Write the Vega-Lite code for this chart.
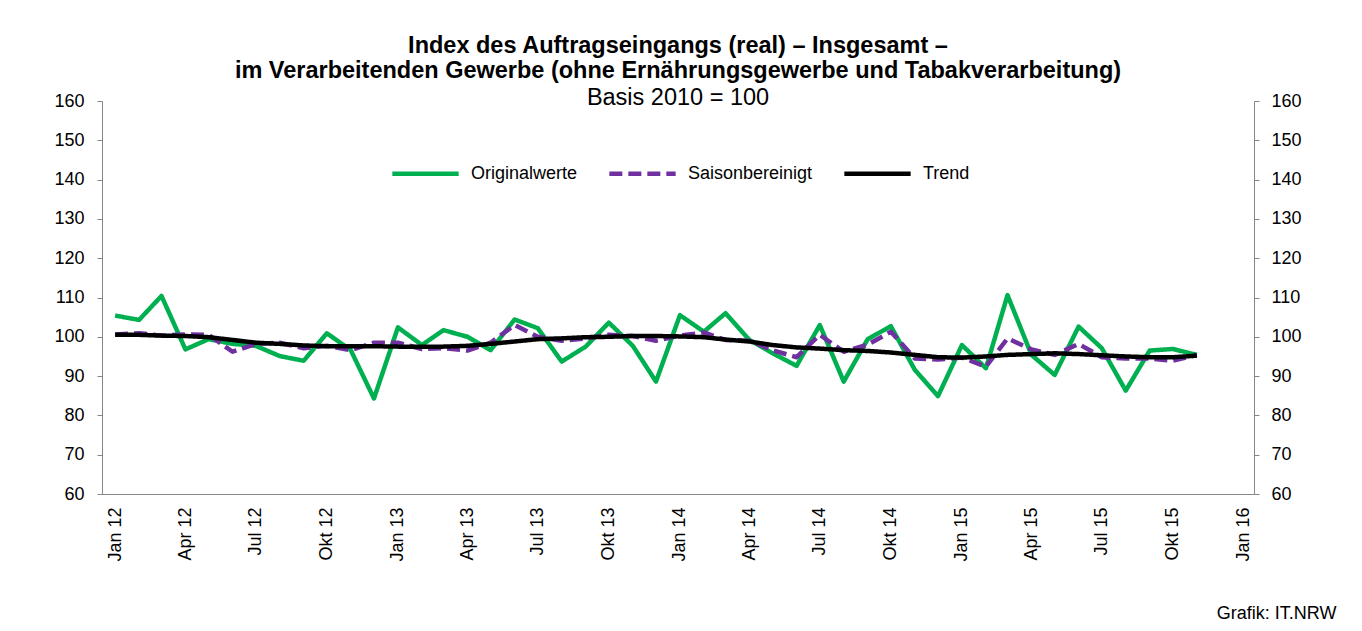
{
  "$schema": "https://vega.github.io/schema/vega-lite/v6.json",
  "autosize": {"type": "none"},
  "width": 1152,
  "height": 393,
  "padding": {"left": 102, "top": 101, "right": 108, "bottom": 137},
  "background": "white",
  "config": {
    "font": "Liberation Sans",
    "view": {"stroke": null},
    "axis": {"labelFont": "Liberation Sans", "titleFont": "Liberation Sans"}
  },
  "title": {
    "text": ["Index des Auftragseingangs (real) – Insgesamt –", "im Verarbeitenden Gewerbe (ohne Ernährungsgewerbe und Tabakverarbeitung)"],
    "subtitle": "Basis 2010 = 100",
    "anchor": "middle",
    "font": "Liberation Sans",
    "fontSize": 23.5,
    "fontWeight": "bold",
    "lineHeight": 25,
    "color": "#000000",
    "subtitleFont": "Liberation Sans",
    "subtitleFontSize": 23.5,
    "subtitleFontWeight": "normal",
    "subtitleColor": "#000000",
    "subtitlePadding": 3,
    "offset": -17
  },
  "data": {"values": [
    {"d":"2012-01-01","s":"Originalwerte","v":105.4},{"d":"2012-02-01","s":"Originalwerte","v":104.3},{"d":"2012-03-01","s":"Originalwerte","v":110.4},{"d":"2012-04-01","s":"Originalwerte","v":96.8},{"d":"2012-05-01","s":"Originalwerte","v":99.4},{"d":"2012-06-01","s":"Originalwerte","v":98.2},{"d":"2012-07-01","s":"Originalwerte","v":97.7},{"d":"2012-08-01","s":"Originalwerte","v":95.1},{"d":"2012-09-01","s":"Originalwerte","v":93.9},{"d":"2012-10-01","s":"Originalwerte","v":100.9},{"d":"2012-11-01","s":"Originalwerte","v":96.6},{"d":"2012-12-01","s":"Originalwerte","v":84.3},
    {"d":"2013-01-01","s":"Originalwerte","v":102.4},{"d":"2013-02-01","s":"Originalwerte","v":97.9},{"d":"2013-03-01","s":"Originalwerte","v":101.7},{"d":"2013-04-01","s":"Originalwerte","v":100.0},{"d":"2013-05-01","s":"Originalwerte","v":96.6},{"d":"2013-06-01","s":"Originalwerte","v":104.4},{"d":"2013-07-01","s":"Originalwerte","v":102.2},{"d":"2013-08-01","s":"Originalwerte","v":93.7},{"d":"2013-09-01","s":"Originalwerte","v":97.5},{"d":"2013-10-01","s":"Originalwerte","v":103.6},{"d":"2013-11-01","s":"Originalwerte","v":97.7},{"d":"2013-12-01","s":"Originalwerte","v":88.6},
    {"d":"2014-01-01","s":"Originalwerte","v":105.5},{"d":"2014-02-01","s":"Originalwerte","v":101.3},{"d":"2014-03-01","s":"Originalwerte","v":106.0},{"d":"2014-04-01","s":"Originalwerte","v":99.2},{"d":"2014-05-01","s":"Originalwerte","v":95.8},{"d":"2014-06-01","s":"Originalwerte","v":92.6},{"d":"2014-07-01","s":"Originalwerte","v":103.0},{"d":"2014-08-01","s":"Originalwerte","v":88.6},{"d":"2014-09-01","s":"Originalwerte","v":99.4},{"d":"2014-10-01","s":"Originalwerte","v":102.7},{"d":"2014-11-01","s":"Originalwerte","v":91.6},{"d":"2014-12-01","s":"Originalwerte","v":84.9},
    {"d":"2015-01-01","s":"Originalwerte","v":97.9},{"d":"2015-02-01","s":"Originalwerte","v":92.0},{"d":"2015-03-01","s":"Originalwerte","v":110.6},{"d":"2015-04-01","s":"Originalwerte","v":95.4},{"d":"2015-05-01","s":"Originalwerte","v":90.3},{"d":"2015-06-01","s":"Originalwerte","v":102.6},{"d":"2015-07-01","s":"Originalwerte","v":97.1},{"d":"2015-08-01","s":"Originalwerte","v":86.3},{"d":"2015-09-01","s":"Originalwerte","v":96.5},{"d":"2015-10-01","s":"Originalwerte","v":96.9},{"d":"2015-11-01","s":"Originalwerte","v":95.4},
    {"d":"2012-01-01","s":"Saisonbereinigt","v":100.6},{"d":"2012-02-01","s":"Saisonbereinigt","v":100.9},{"d":"2012-03-01","s":"Saisonbereinigt","v":100.3},{"d":"2012-04-01","s":"Saisonbereinigt","v":100.6},{"d":"2012-05-01","s":"Saisonbereinigt","v":100.5},{"d":"2012-06-01","s":"Saisonbereinigt","v":96.2},{"d":"2012-07-01","s":"Saisonbereinigt","v":98.2},{"d":"2012-08-01","s":"Saisonbereinigt","v":98.5},{"d":"2012-09-01","s":"Saisonbereinigt","v":97.1},{"d":"2012-10-01","s":"Saisonbereinigt","v":97.7},{"d":"2012-11-01","s":"Saisonbereinigt","v":96.6},{"d":"2012-12-01","s":"Saisonbereinigt","v":98.5},
    {"d":"2013-01-01","s":"Saisonbereinigt","v":98.5},{"d":"2013-02-01","s":"Saisonbereinigt","v":96.9},{"d":"2013-03-01","s":"Saisonbereinigt","v":97.1},{"d":"2013-04-01","s":"Saisonbereinigt","v":96.5},{"d":"2013-05-01","s":"Saisonbereinigt","v":98.5},{"d":"2013-06-01","s":"Saisonbereinigt","v":103.0},{"d":"2013-07-01","s":"Saisonbereinigt","v":100.0},{"d":"2013-08-01","s":"Saisonbereinigt","v":99.0},{"d":"2013-09-01","s":"Saisonbereinigt","v":99.6},{"d":"2013-10-01","s":"Saisonbereinigt","v":100.5},{"d":"2013-11-01","s":"Saisonbereinigt","v":100.2},{"d":"2013-12-01","s":"Saisonbereinigt","v":99.0},
    {"d":"2014-01-01","s":"Saisonbereinigt","v":100.3},{"d":"2014-02-01","s":"Saisonbereinigt","v":101.1},{"d":"2014-03-01","s":"Saisonbereinigt","v":99.2},{"d":"2014-04-01","s":"Saisonbereinigt","v":99.0},{"d":"2014-05-01","s":"Saisonbereinigt","v":96.6},{"d":"2014-06-01","s":"Saisonbereinigt","v":94.8},{"d":"2014-07-01","s":"Saisonbereinigt","v":100.5},{"d":"2014-08-01","s":"Saisonbereinigt","v":96.2},{"d":"2014-09-01","s":"Saisonbereinigt","v":98.0},{"d":"2014-10-01","s":"Saisonbereinigt","v":101.3},{"d":"2014-11-01","s":"Saisonbereinigt","v":94.5},{"d":"2014-12-01","s":"Saisonbereinigt","v":94.2},
    {"d":"2015-01-01","s":"Saisonbereinigt","v":94.7},{"d":"2015-02-01","s":"Saisonbereinigt","v":92.4},{"d":"2015-03-01","s":"Saisonbereinigt","v":99.6},{"d":"2015-04-01","s":"Saisonbereinigt","v":96.8},{"d":"2015-05-01","s":"Saisonbereinigt","v":95.4},{"d":"2015-06-01","s":"Saisonbereinigt","v":98.2},{"d":"2015-07-01","s":"Saisonbereinigt","v":94.8},{"d":"2015-08-01","s":"Saisonbereinigt","v":94.5},{"d":"2015-09-01","s":"Saisonbereinigt","v":94.5},{"d":"2015-10-01","s":"Saisonbereinigt","v":93.9},{"d":"2015-11-01","s":"Saisonbereinigt","v":95.4},
    {"d":"2012-01-01","s":"Trend","v":100.5},{"d":"2012-02-01","s":"Trend","v":100.5},{"d":"2012-03-01","s":"Trend","v":100.3},{"d":"2012-04-01","s":"Trend","v":100.2},{"d":"2012-05-01","s":"Trend","v":99.9},{"d":"2012-06-01","s":"Trend","v":99.2},{"d":"2012-07-01","s":"Trend","v":98.5},{"d":"2012-08-01","s":"Trend","v":98.2},{"d":"2012-09-01","s":"Trend","v":97.8},{"d":"2012-10-01","s":"Trend","v":97.6},{"d":"2012-11-01","s":"Trend","v":97.6},{"d":"2012-12-01","s":"Trend","v":97.6},
    {"d":"2013-01-01","s":"Trend","v":97.5},{"d":"2013-02-01","s":"Trend","v":97.5},{"d":"2013-03-01","s":"Trend","v":97.5},{"d":"2013-04-01","s":"Trend","v":97.7},{"d":"2013-05-01","s":"Trend","v":98.2},{"d":"2013-06-01","s":"Trend","v":98.8},{"d":"2013-07-01","s":"Trend","v":99.4},{"d":"2013-08-01","s":"Trend","v":99.6},{"d":"2013-09-01","s":"Trend","v":99.9},{"d":"2013-10-01","s":"Trend","v":100.0},{"d":"2013-11-01","s":"Trend","v":100.2},{"d":"2013-12-01","s":"Trend","v":100.2},
    {"d":"2014-01-01","s":"Trend","v":100.1},{"d":"2014-02-01","s":"Trend","v":99.9},{"d":"2014-03-01","s":"Trend","v":99.3},{"d":"2014-04-01","s":"Trend","v":98.8},{"d":"2014-05-01","s":"Trend","v":97.9},{"d":"2014-06-01","s":"Trend","v":97.3},{"d":"2014-07-01","s":"Trend","v":97.0},{"d":"2014-08-01","s":"Trend","v":96.6},{"d":"2014-09-01","s":"Trend","v":96.4},{"d":"2014-10-01","s":"Trend","v":96.0},{"d":"2014-11-01","s":"Trend","v":95.4},{"d":"2014-12-01","s":"Trend","v":94.8},
    {"d":"2015-01-01","s":"Trend","v":94.7},{"d":"2015-02-01","s":"Trend","v":95.0},{"d":"2015-03-01","s":"Trend","v":95.4},{"d":"2015-04-01","s":"Trend","v":95.6},{"d":"2015-05-01","s":"Trend","v":95.8},{"d":"2015-06-01","s":"Trend","v":95.6},{"d":"2015-07-01","s":"Trend","v":95.3},{"d":"2015-08-01","s":"Trend","v":95.0},{"d":"2015-09-01","s":"Trend","v":94.8},{"d":"2015-10-01","s":"Trend","v":94.8},{"d":"2015-11-01","s":"Trend","v":95.2}
  ]},
  "encoding": {
    "x": {
      "field": "d", "type": "temporal",
      "scale": {"type": "utc", "domain": [{"year": 2011, "month": 12, "date": 15, "utc": true}, {"year": 2016, "month": 1, "date": 14, "utc": true}]},
      "axis": {
        "tickCount": {"interval": "month", "step": 3},
        "labelExpr": "['Jan','Feb','Mär','Apr','Mai','Jun','Jul','Aug','Sep','Okt','Nov','Dez'][utcmonth(datum.value)] + ' ' + utcFormat(datum.value, '%y')",
        "labelAngle": -90,
        "labelFontSize": 18,
        "labelColor": "#000000",
        "labelPadding": 13,
        "labelOverlap": false,
        "labelFlush": false,
        "labelBound": false,
        "ticks": false,
        "grid": false,
        "domainColor": "#868686",
        "domainWidth": 1,
        "title": "Grafik: IT.NRW",
        "titleFontSize": 18,
        "titleFontWeight": "normal",
        "titleColor": "#000000",
        "titleX": 1234,
        "titleY": 119,
        "titleAlign": "right",
        "titleBaseline": "middle",
        "titleAngle": 0
      }
    },
    "y": {
      "field": "v", "type": "quantitative",
      "scale": {"domain": [60, 160], "nice": false, "zero": false}
    }
  },
  "layer": [
    {
      "mark": {"type": "line", "strokeJoin": "round"},
      "encoding": {
        "y": {
          "field": "v", "type": "quantitative",
          "axis": {
            "orient": "left",
            "values": [60, 70, 80, 90, 100, 110, 120, 130, 140, 150, 160],
            "title": null,
            "grid": false,
            "labelFontSize": 18,
            "labelColor": "#000000",
            "labelPadding": 13,
            "tickSize": 5,
            "tickColor": "#868686",
            "domainColor": "#868686",
            "labelFlush": false,
            "labelBound": false,
            "labelOverlap": false
          }
        },
        "color": {
          "field": "s", "type": "nominal",
          "scale": {"domain": ["Originalwerte", "Saisonbereinigt", "Trend"], "range": ["#00B050", "#7030A0", "#000000"]},
          "legend": {
            "orient": "none",
            "legendX": 288,
            "legendY": 37,
            "direction": "horizontal",
            "title": null,
            "labelFontSize": 18,
            "labelColor": "#000000",
            "labelOffset": 10,
            "columnPadding": 22,
            "symbolType": "stroke",
            "symbolSize": 4400,
            "symbolStrokeWidth": 5
          }
        },
        "strokeDash": {
          "field": "s", "type": "nominal",
          "scale": {"domain": ["Originalwerte", "Saisonbereinigt", "Trend"], "range": [[1, 0], [13, 6], [1, 0]]},
          "legend": {
            "orient": "none",
            "legendX": 288,
            "legendY": 37,
            "direction": "horizontal",
            "title": null,
            "labelFontSize": 18,
            "labelColor": "#000000",
            "labelOffset": 10,
            "columnPadding": 22,
            "symbolType": "stroke",
            "symbolSize": 4400,
            "symbolStrokeWidth": 5
          }
        },
        "strokeWidth": {
          "field": "s", "type": "nominal",
          "scale": {"domain": ["Originalwerte", "Saisonbereinigt", "Trend"], "range": [4.5, 4.5, 5.5]},
          "legend": null
        }
      }
    },
    {
      "mark": {"type": "line", "opacity": 0},
      "encoding": {
        "detail": {"field": "s", "type": "nominal"},
        "y": {
          "field": "v", "type": "quantitative",
          "axis": {
            "orient": "right",
            "values": [60, 70, 80, 90, 100, 110, 120, 130, 140, 150, 160],
            "title": null,
            "grid": false,
            "labelFontSize": 18,
            "labelColor": "#000000",
            "labelPadding": 12,
            "tickSize": 5,
            "tickColor": "#868686",
            "domainColor": "#868686",
            "labelFlush": false,
            "labelBound": false,
            "labelOverlap": false
          }
        }
      }
    }
  ],
  "resolve": {"axis": {"y": "independent"}}
}
